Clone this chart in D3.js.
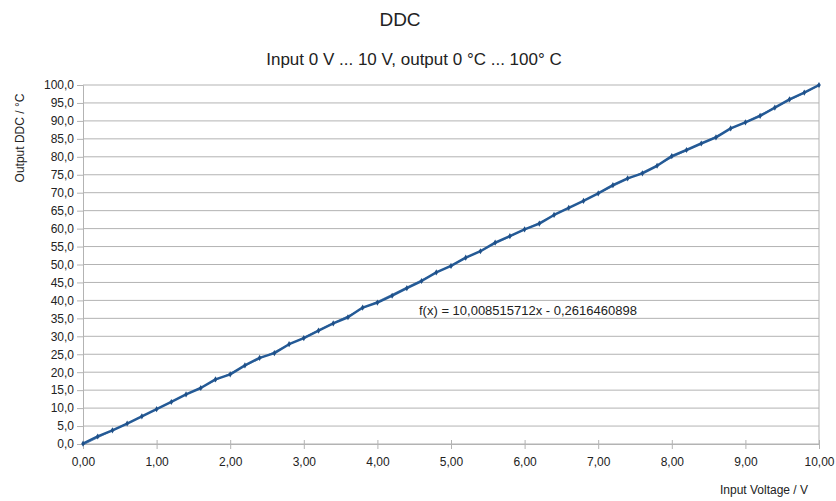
<!DOCTYPE html>
<html>
<head>
<meta charset="utf-8">
<script src="https://cdn.jsdelivr.net/npm/d3@7"></script>
<style>
    body { margin: 0; background: #fff; }
    text { font-family: "Liberation Sans", Arial, sans-serif; fill: #222; }
</style>
</head>
<body>
<svg id="chart" width="836" height="501"></svg>
<script>
// measured points, input voltage in V
const voltage = [0.0, 0.2, 0.4, 0.6, 0.8, 1.0, 1.2, 1.4, 1.6, 1.8,
    2.0, 2.2, 2.4, 2.6, 2.8, 3.0, 3.2, 3.4, 3.6, 3.8,
    4.0, 4.2, 4.4, 4.6, 4.8, 5.0, 5.2, 5.4, 5.6, 5.8,
    6.0, 6.2, 6.4, 6.6, 6.8, 7.0, 7.2, 7.4, 7.6, 7.8,
    8.0, 8.2, 8.4, 8.6, 8.8, 9.0, 9.2, 9.4, 9.6, 9.8, 10.0];
// output of the DDC in °C
const output = [0.1, 2.1, 3.8, 5.7, 7.7, 9.7, 11.7, 13.8, 15.6, 18.0,
    19.4, 21.9, 24.0, 25.3, 27.8, 29.5, 31.6, 33.6, 35.3, 38.0,
    39.4, 41.3, 43.4, 45.4, 47.8, 49.6, 51.9, 53.7, 56.1, 57.9,
    59.8, 61.4, 63.8, 65.8, 67.7, 69.8, 72.1, 74.0, 75.4, 77.5,
    80.2, 81.9, 83.7, 85.4, 87.9, 89.6, 91.4, 93.7, 96.0, 97.9, 100.0];

const xTicks = [0, 1, 2, 3, 4, 5, 6, 7, 8, 9, 10];
const yTicks = d3.range(0, 101, 5);
const equation = "f(x) = 10,008515712x - 0,2616460898";

const svg = d3.select("#chart");
const margin = { left: 83, right: 17, top: 85, bottom: 57 };
const width = 836, height = 501;

const x = d3.scaleLinear().domain([0, 10]).range([margin.left, width - margin.right]);
const y = d3.scaleLinear().domain([0, 100]).range([height - margin.bottom, margin.top]);

const comma = f => s => d3.format(f)(s).replace(".", ",");

// horizontal grid
svg.append("g")
    .selectAll("line")
    .data(yTicks)
    .join("line")
    .attr("x1", x(0)).attr("x2", x(10))
    .attr("y1", d => y(d)).attr("y2", d => y(d))
    .attr("stroke", "#b3b3b3").attr("stroke-width", 1);

// right border
svg.append("line")
    .attr("x1", x(10)).attr("x2", x(10))
    .attr("y1", y(0)).attr("y2", y(100))
    .attr("stroke", "#b3b3b3");

const yAxis = svg.append("g")
    .attr("transform", `translate(${margin.left},0)`)
    .call(d3.axisLeft(y).tickValues(yTicks).tickFormat(comma(".1f")).tickSize(6).tickPadding(3));
yAxis.select(".domain").attr("stroke", "#b3b3b3");
yAxis.selectAll(".tick line").attr("stroke", "#b3b3b3");
yAxis.selectAll(".tick text").attr("font-size", 12).attr("fill", "#222");

const xAxis = svg.append("g")
    .attr("transform", `translate(0,${y(0)})`)
    .call(d3.axisBottom(x).tickValues(xTicks).tickFormat(comma(".2f")).tickSize(5).tickPadding(8));
xAxis.select(".domain").attr("stroke", "#b3b3b3");
xAxis.selectAll(".tick line").attr("stroke", "#b3b3b3").attr("y1", -4);
xAxis.selectAll(".tick text").attr("font-size", 12).attr("fill", "#222");

// linear trend line from the data
const mx = d3.mean(voltage), my = d3.mean(output);
const slope = d3.sum(voltage, (v, i) => (v - mx) * (output[i] - my)) / d3.sum(voltage, v => (v - mx) ** 2);
const icpt = my - slope * mx;
svg.append("line")
    .attr("x1", x(0)).attr("y1", y(icpt))
    .attr("x2", x(10)).attr("y2", y(slope * 10 + icpt))
    .attr("stroke", "#2a5d98").attr("stroke-width", 1).attr("opacity", 0.6);

const pts = voltage.map((v, i) => [v, output[i]]);
const line = d3.line().x(d => x(d[0])).y(d => y(d[1]));

svg.append("path")
    .datum(pts)
    .attr("d", line)
    .attr("fill", "none")
    .attr("stroke", "#245a96")
    .attr("stroke-width", 2.5)
    .attr("stroke-linejoin", "round");

svg.append("g")
    .selectAll("path")
    .data(pts)
    .join("path")
    .attr("transform", d => `translate(${x(d[0])},${y(d[1])})`)
    .attr("d", d3.symbol(d3.symbolDiamond, 11))
    .attr("fill", "#1f5088");

// texts
svg.append("text")
    .attr("x", 400).attr("y", 26)
    .attr("text-anchor", "middle").attr("font-size", 19)
    .text("DDC");

svg.append("text")
    .attr("x", 414).attr("y", 65)
    .attr("text-anchor", "middle").attr("font-size", 17)
    .text("Input 0 V ... 10 V, output 0 °C ... 100° C");

svg.append("text")
    .attr("x", 419).attr("y", 315)
    .attr("font-size", 13)
    .text(equation);

svg.append("text")
    .attr("x", 764).attr("y", 494)
    .attr("text-anchor", "middle").attr("font-size", 12)
    .text("Input Voltage / V");

svg.append("text")
    .attr("transform", "translate(24,138) rotate(-90)")
    .attr("text-anchor", "middle").attr("font-size", 12)
    .text("Output DDC / °C");
</script>
</body>
</html>
